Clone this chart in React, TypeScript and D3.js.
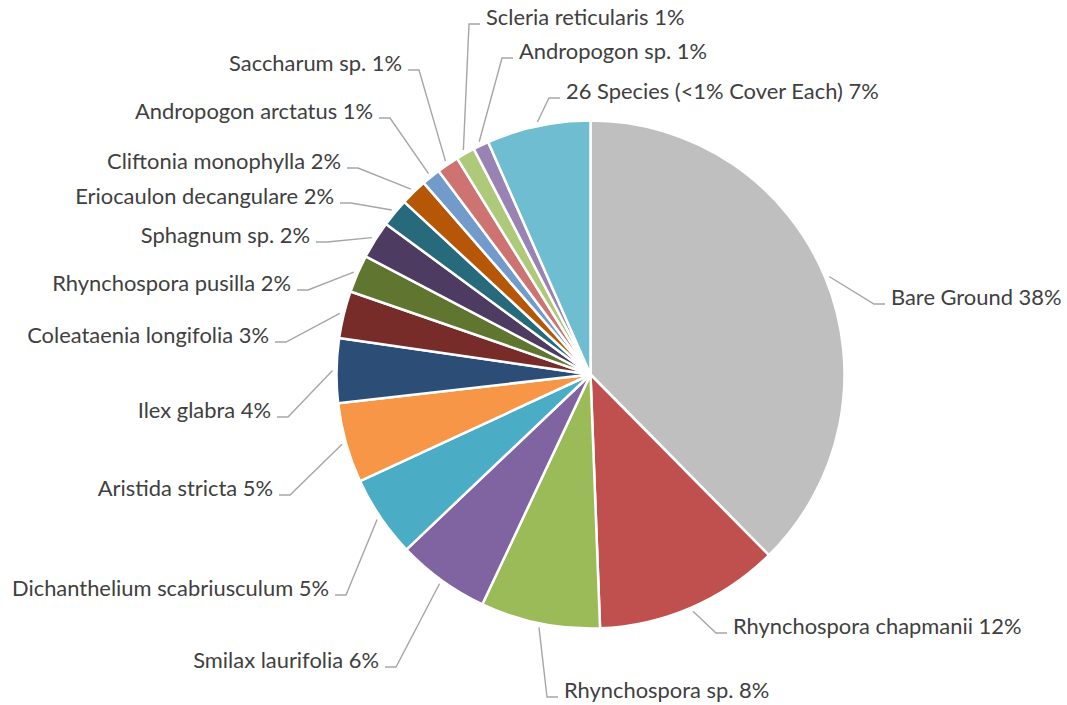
import React from "react";
import * as d3 from "d3";

const categories = [
  "Bare Ground",
  "Rhynchospora chapmanii",
  "Rhynchospora sp.",
  "Smilax laurifolia",
  "Dichanthelium scabriusculum",
  "Aristida stricta",
  "Ilex glabra",
  "Coleataenia longifolia",
  "Rhynchospora pusilla",
  "Sphagnum sp.",
  "Eriocaulon decangulare",
  "Cliftonia monophylla",
  "Andropogon arctatus",
  "Saccharum sp.",
  "Scleria reticularis",
  "Andropogon sp.",
  "26 Species (<1% Cover Each)",
];

const coverValues = [37.6, 11.8, 7.6, 5.9, 5.2, 5.1, 4.1, 3.0, 2.4, 2.4, 1.8, 1.7, 1.2, 1.4, 1.2, 1.0, 6.6];

const sliceColors = [
  "#BFBFBF", "#C0504D", "#9BBB59", "#8064A2", "#4BACC6", "#F79646",
  "#2C4D75", "#772C2A", "#5F7530", "#4D3B62", "#276A7C", "#B65708",
  "#729ACA", "#CD7371", "#AFC97A", "#9983B5", "#6FBDD1",
];

// label leader end points relative to pie centre, and text side (1 = right, -1 = left)
const labelLayout: { end: [number, number]; side: number }[] = [
  { end: [294.5, -70.5], side: 1 },
  { end: [136.5, 258.5], side: 1 },
  { end: [-32.5, 322.5], side: 1 },
  { end: [-205.5, 292.5], side: -1 },
  { end: [-255.5, 220.5], side: -1 },
  { end: [-311.5, 120.5], side: -1 },
  { end: [-313.5, 42.5], side: -1 },
  { end: [-315.5, -32.5], side: -1 },
  { end: [-293.5, -84.5], side: -1 },
  { end: [-274.5, -132.5], side: -1 },
  { end: [-250.5, -171.5], side: -1 },
  { end: [-243.5, -206.5], side: -1 },
  { end: [-211.5, -256.5], side: -1 },
  { end: [-182.5, -304.5], side: -1 },
  { end: [-110.5, -350.5], side: 1 },
  { end: [-77.5, -316.5], side: 1 },
  { end: [-30.5, -276.5], side: 1 },
];

const W = 1067;
const H = 705;
const CX = 590.5;
const CY = 374.5;
const R = 254;

export default function App() {
  const total = d3.sum(coverValues);
  const pie = d3.pie<number>().sort(null).value((d) => d).startAngle(0).endAngle(2 * Math.PI);
  const arcs = pie(coverValues);
  const arc = d3.arc<d3.PieArcDatum<number>>().innerRadius(0).outerRadius(R);

  return (
    <svg
      width={W}
      height={H}
      style={{ position: "absolute", left: 0, top: 0, background: "#fff" }}
      fontFamily="Lato, 'Open Sans', sans-serif"
    >
      <rect x={0} y={0} width={W} height={H} fill="#fff" />
      <g transform={`translate(${CX},${CY})`}>
        {arcs.map((a, i) => (
          <path key={i} d={arc(a) || ""} fill={sliceColors[i]} stroke="#fff" strokeWidth={2.5} strokeLinejoin="round" />
        ))}
        {arcs.map((a, i) => {
          const mid = (a.startAngle + a.endAngle) / 2;
          const sr = R + 4;
          const sx = Math.sin(mid) * sr;
          const sy = -Math.cos(mid) * sr;
          const lay = labelLayout[i];
          const [ex, ey] = lay.end;
          const bx = ex - lay.side * 11;
          const pct = Math.round((coverValues[i] / total) * 100);
          return (
            <g key={"l" + i}>
              <polyline
                points={`${sx},${sy} ${bx},${ey} ${ex},${ey}`}
                fill="none"
                stroke="#A6A6A6"
                strokeWidth={1.4}
              />
              <text
                x={ex + lay.side * 6}
                y={ey + 1}
                textAnchor={lay.side > 0 ? "start" : "end"}
                fontSize={21.9}
                fill="#404040"
              >
                {`${categories[i]} ${pct}%`}
              </text>
            </g>
          );
        })}
      </g>
    </svg>
  );
}
